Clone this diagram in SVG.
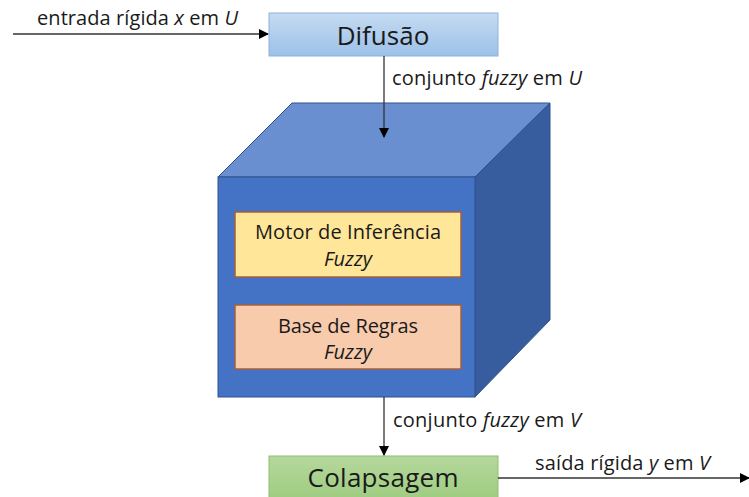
<svg xmlns="http://www.w3.org/2000/svg" width="749" height="497" viewBox="0 0 749 497">
<style>
text{font-family:"Open Sans","Noto Sans","Liberation Sans",sans-serif;fill:#1a1a1a}
.lbl{font-size:20px}
.inner{font-size:20px;text-anchor:middle}
.big{font-size:26px;text-anchor:middle}
.conn{stroke:#333;stroke-width:1.3;fill:none}
</style>
<defs>
<marker id="ah" markerWidth="10" markerHeight="10" refX="9" refY="5" orient="auto" markerUnits="userSpaceOnUse">
<path d="M0,0 L10,5 L0,10 z" fill="#000"/>
</marker>
<linearGradient id="gBlue" x1="0" y1="0" x2="0" y2="1">
<stop offset="0" stop-color="#c5dbf2"/>
<stop offset="1" stop-color="#9cc1e8"/>
</linearGradient>
<linearGradient id="gGreen" x1="0" y1="0" x2="0" y2="1">
<stop offset="0" stop-color="#b5d89c"/>
<stop offset="1" stop-color="#9ccb7e"/>
</linearGradient>
</defs>
<g id="difusao">
<rect x="269" y="13" width="229" height="43" fill="url(#gBlue)" stroke="#8fb2dc" stroke-width="1"/>
<text class="big" x="383" y="45">Difusão</text>
</g>
<g id="cube">
<polygon points="218,177 292,103 550,103 475,177" fill="#6a8fd0" stroke="#2f528f" stroke-width="1"/>
<polygon points="475,177 550,103 550,320 475,397" fill="#385d9e" stroke="#2f528f" stroke-width="1"/>
<rect x="218" y="177" width="257" height="220" fill="#4472c4" stroke="#2f528f" stroke-width="1"/>
</g>
<g id="motor">
<rect x="235" y="212" width="226" height="65" fill="#ffe699" stroke="#a5603a" stroke-width="1.5"/>
<text class="inner" x="348" y="239" textLength="186">Motor de Inferência</text>
<text class="inner" x="348" y="266" font-style="italic">Fuzzy</text>
</g>
<g id="base">
<rect x="235" y="305" width="226" height="64" fill="#f8cbad" stroke="#a5603a" stroke-width="1.5"/>
<text class="inner" x="348" y="333" textLength="140">Base de Regras</text>
<text class="inner" x="348" y="359" font-style="italic">Fuzzy</text>
</g>
<g id="colapsagem">
<rect x="269" y="456" width="229" height="48" fill="url(#gGreen)" stroke="#8fbf6f" stroke-width="1"/>
<text class="big" x="383" y="487" font-size="28" textLength="151">Colapsagem</text>
</g>
<g id="connectors">
<line class="conn" x1="13" y1="34" x2="268" y2="34" marker-end="url(#ah)"/>
<line class="conn" x1="384" y1="56" x2="384" y2="137" marker-end="url(#ah)"/>
<line class="conn" x1="384" y1="397" x2="384" y2="455" marker-end="url(#ah)"/>
<line class="conn" x1="498" y1="478" x2="749" y2="478" marker-end="url(#ah)"/>
<text class="lbl" x="37" y="25" textLength="201">entrada rígida <tspan font-style="italic">x</tspan> em <tspan font-style="italic">U</tspan></text>
<text class="lbl" x="392" y="85" textLength="190">conjunto <tspan font-style="italic">fuzzy</tspan> em <tspan font-style="italic">U</tspan></text>
<text class="lbl" x="393" y="427" textLength="188">conjunto <tspan font-style="italic">fuzzy</tspan> em <tspan font-style="italic">V</tspan></text>
<text class="lbl" x="535" y="470" textLength="175">saída rígida <tspan font-style="italic">y</tspan> em <tspan font-style="italic">V</tspan></text>
</g>
</svg>
